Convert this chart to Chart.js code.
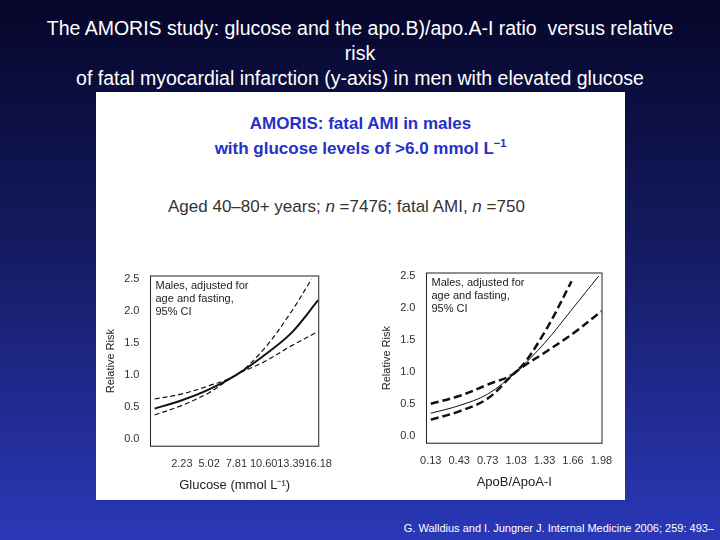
<!DOCTYPE html>
<html><head><meta charset="utf-8">
<script src="https://cdn.jsdelivr.net/npm/chart.js@4/dist/chart.umd.min.js"></script>
<style>
body{margin:0;width:720px;height:540px;overflow:hidden;font-family:"Liberation Sans",Arial,sans-serif;
 background:linear-gradient(180deg,#06062a 0%,#141a60 45%,#2a38b8 100%);position:relative}
#title{position:absolute;top:16px;left:0;width:720px;text-align:center;color:#fff;font-size:19.5px;line-height:25px}
#panel{position:absolute;left:96px;top:92px;width:529px;height:408px;background:#fff}
.h{position:absolute;left:0;width:529px;text-align:center;color:#2530c8;font-weight:bold;font-size:17px}
#sub{position:absolute;left:72px;top:105px;color:#333;font-size:17px}
canvas{position:absolute}
#cite{position:absolute;right:6px;top:522px;color:#fff;font-size:11px}
</style></head><body>
<div id="title">The AMORIS study: glucose and the apo.B)/apo.A-I ratio&nbsp; versus relative<br>risk<br>of fatal myocardial infarction (y-axis) in men with elevated glucose</div>
<div id="panel">
 <div class="h" style="top:22px">AMORIS: fatal AMI in males</div>
 <div class="h" style="top:45px">with glucose levels of &gt;6.0 mmol L<sup style="font-size:11px">−1</sup></div>
 <div id="sub">Aged 40–80+ years; <i>n</i> =7476; fatal AMI, <i>n</i> =750</div>
</div>
<canvas id="c1" width="235" height="235" style="left:100px;top:262px"></canvas>
<canvas id="c2" width="240" height="235" style="left:376px;top:259px"></canvas>
<div id="cite">G. Walldius and I. Jungner J. Internal Medicine 2006; 259: 493–</div>
<script>
// left panel: glucose
const glucoseTicks = ["", "2.23", "5.02", "7.81", "10.60", "13.39", "16.18"];
const glucoseX = [-0.56, 2.23, 5.02, 7.81, 10.60, 13.39, 16.18];
const glucoseRR = [0.47, 0.60, 0.77, 1.00, 1.30, 1.65, 2.17];
const glucoseUpX = [-0.56, 2.23, 5.02, 7.81, 10.60, 13.39, 15.5];
const glucoseUp = [0.62, 0.70, 0.83, 1.00, 1.40, 1.98, 2.50];
const glucoseLow = [0.37, 0.52, 0.72, 1.00, 1.20, 1.45, 1.68];
// right panel: apoB/apoA-I (evenly spaced ticks)
const ratioTicks = ["0.13", "0.43", "0.73", "1.03", "1.33", "1.66", "1.98"];
const ratioX = [0, 1, 2, 3, 4, 5, 5.9];
const ratioRR = [0.35, 0.47, 0.65, 1.00, 1.45, 2.00, 2.50];
const ratioUpX = [0, 1, 2, 3, 4, 4.95];
const ratioUp = [0.50, 0.62, 0.80, 1.00, 1.62, 2.42];
const ratioLowX = [0, 1, 2, 3, 4, 5, 6];
const ratioLow = [0.25, 0.38, 0.58, 1.00, 1.30, 1.60, 1.95];
const riskTicks = [0, 0.5, 1.0, 1.5, 2.0, 2.5];

const pts = (xs, ys) => xs.map((x, i) => ({x, y: ys[i]}));
const boxPlugin = {id: "box", afterDraw(c) {
  const a = c.chartArea, ctx = c.ctx;
  ctx.save(); ctx.strokeStyle = "#222"; ctx.lineWidth = 1;
  ctx.strokeRect(a.left, a.top, a.right - a.left, a.bottom - a.top);
  ctx.fillStyle = "#222"; ctx.font = "11px 'Liberation Sans', Arial";
  ["Males, adjusted for", "age and fasting,", "95% CI"].forEach((t, i) => ctx.fillText(t, a.left + 5, a.top + 13 + i * 13));
  ctx.restore();
}};

function make(id, sets, xMin, step, ticks, title) {
  const ds = sets.map(s => ({data: s.d, borderColor: "#111", borderWidth: s.w, borderDash: s.dash,
    pointRadius: 0, tension: 0.35, fill: false}));
  const xMax = xMin + (ticks.length - 1) * step;
  new Chart(document.getElementById(id), {
    type: "line", data: {datasets: ds}, plugins: [boxPlugin],
    options: {responsive: false, animation: false, layout: {padding: {top: 14, right: 14}},
      plugins: {legend: {display: false}, tooltip: {enabled: false}},
      scales: {
        x: {type: "linear", min: xMin - step * 0.15, max: xMax + step * 0.02, grid: {display: false},
          ticks: {color: "#333", font: {size: 11}, autoSkip: false, maxRotation: 0,
            callback: (v, i) => ticks[i] ?? ""},
          afterBuildTicks: ax => { ax.ticks = ticks.map((t, i) => ({value: xMin + i * step})); },
          title: {display: true, text: title, color: "#222", font: {size: 13}}},
        y: {min: -0.12, max: 2.55, grid: {display: false},
          ticks: {color: "#333", font: {size: 11}, callback: v => v.toFixed(1)},
          afterBuildTicks: ax => { ax.ticks = riskTicks.map(v => ({value: v})); },
          title: {display: true, text: "Relative Risk", color: "#222", font: {size: 11}}}
      }}
  });
}
make("c1", [
  {d: pts(glucoseX, glucoseRR), w: 2, dash: []},
  {d: pts(glucoseUpX, glucoseUp), w: 1.2, dash: [5, 3]},
  {d: pts(glucoseX, glucoseLow), w: 1.2, dash: [5, 3]}
], -0.56, 2.79, glucoseTicks, "Glucose (mmol L⁻¹)");
make("c2", [
  {d: pts(ratioX, ratioRR), w: 1, dash: []},
  {d: pts(ratioUpX, ratioUp), w: 2.5, dash: [8, 4]},
  {d: pts(ratioLowX, ratioLow), w: 2.5, dash: [8, 4]}
], 0, 1, ratioTicks, "ApoB/ApoA-I");
</script>
</body></html>
